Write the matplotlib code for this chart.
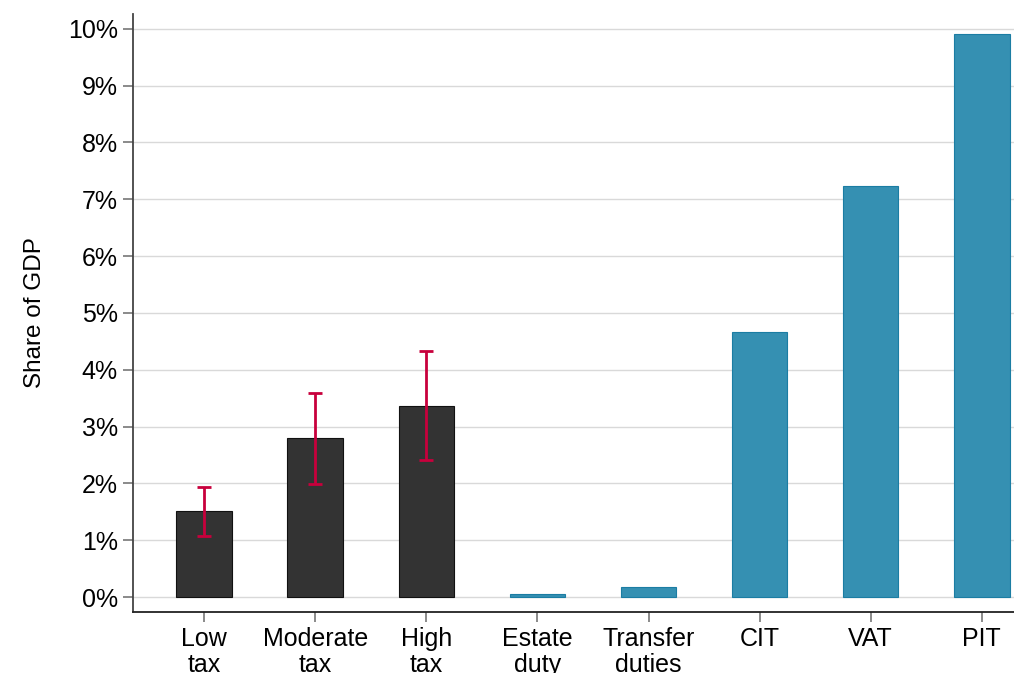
import matplotlib
matplotlib.use('Agg')
import matplotlib.pyplot as plt
import numpy as np
from matplotlib.ticker import FuncFormatter

plt.rcParams['font.family'] = ['Liberation Sans', 'DejaVu Sans']

# Données
categories = ['Low\ntax', 'Moderate\ntax', 'High\ntax', 'Estate\nduty',
              'Transfer\nduties', 'CIT', 'VAT', 'PIT']
values = [1.51, 2.80, 3.36, 0.05, 0.18, 4.67, 7.23, 9.91]
err_low = [1.07, 1.99, 2.41]
err_high = [1.94, 3.59, 4.33]

dark_color = '#333333'
blue_color = '#3590B2'
err_color = '#C8003C'

fig = plt.figure(figsize=(10.14, 6.73), dpi=100)
ax = fig.add_axes([0.1312, 0.0906, 0.8688, 0.8885])

x = np.arange(len(categories))
colors = [dark_color] * 3 + [blue_color] * 5
edges = ['#111111'] * 3 + ['#1B7DA3'] * 5
ax.bar(x, values, width=0.5, color=colors, edgecolor=edges, linewidth=0.8, zorder=2)

# Barres d'erreur pour les trois scénarios
xe = x[:3]
ve = np.array(values[:3])
yerr = [ve - np.array(err_low), np.array(err_high) - ve]
ax.errorbar(xe, ve, yerr=yerr, fmt='none', ecolor=err_color, elinewidth=2.0,
            capsize=5, capthick=2.0, zorder=3)

ax.set_xlim(-0.64, 7.29)
ax.set_ylim(-0.264, 10.26)
ax.set_yticks(np.arange(0, 11, 1))
ax.yaxis.set_major_formatter(FuncFormatter(lambda v, p: f'{int(round(v))}%'))
ax.set_xticks(x)
ax.set_xticklabels(categories, linespacing=1.1)

ax.grid(axis='y', color='#d9d9d9', linewidth=1, zorder=0)
ax.set_axisbelow(True)

for s in ['top', 'right']:
    ax.spines[s].set_visible(False)
ax.spines['left'].set_color('#444444')
ax.spines['bottom'].set_color('#222222')
ax.spines['left'].set_linewidth(1.3)
ax.spines['bottom'].set_linewidth(1.3)

ax.tick_params(axis='both', direction='out', length=7, width=1.2, color='#777777',
               labelsize=18, pad=4)
ax.set_ylabel('Share of GDP', fontsize=17.5, labelpad=16)

plt.savefig('out.png', dpi=100)
plt.close(fig)
